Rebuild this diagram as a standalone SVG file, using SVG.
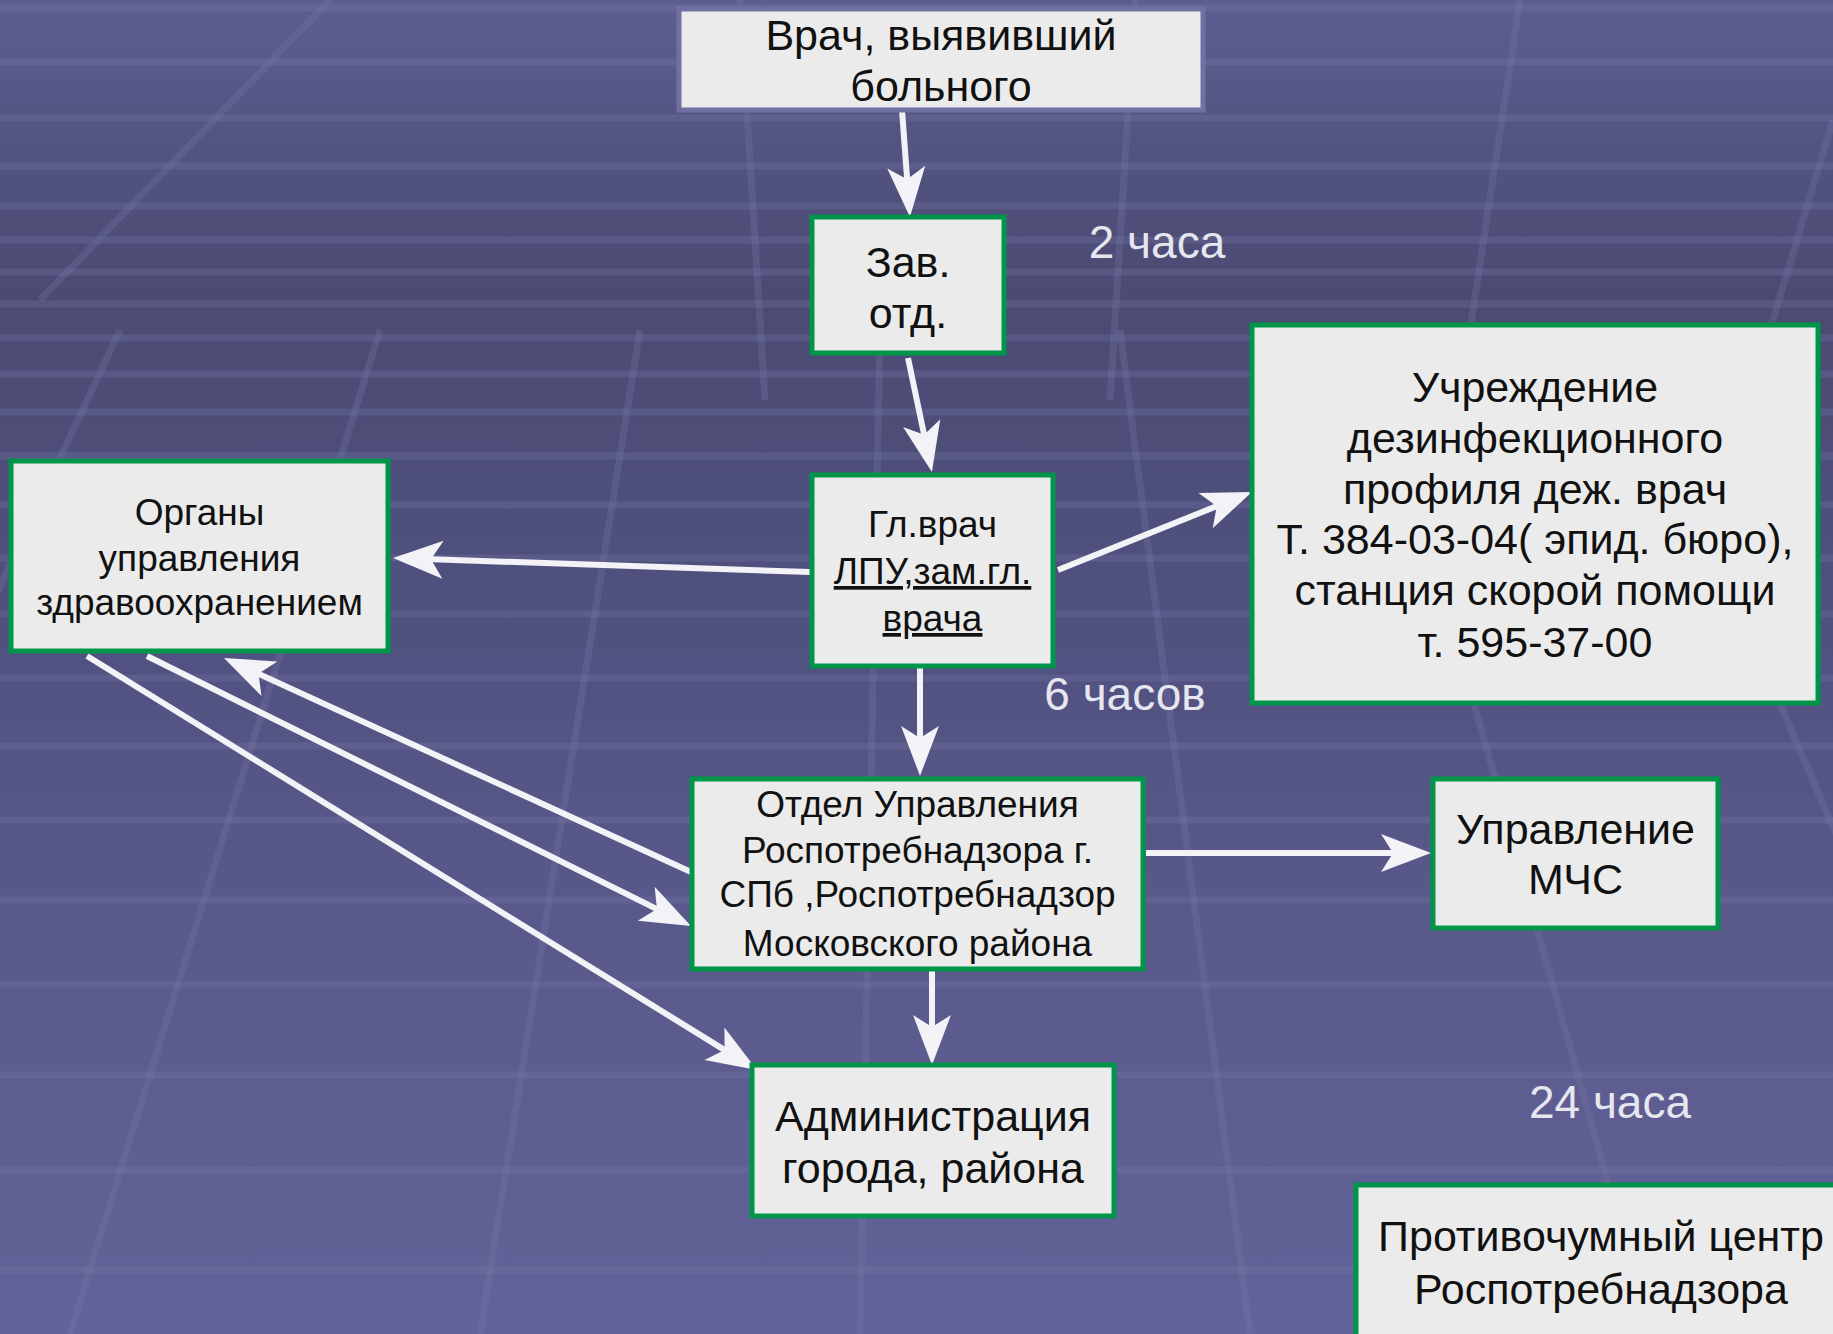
<svg xmlns="http://www.w3.org/2000/svg" width="1833" height="1334" viewBox="0 0 1833 1334">
<defs>
<linearGradient id="bg" x1="0" y1="0" x2="0" y2="1">
<stop offset="0" stop-color="#5d5d91"/>
<stop offset="0.22" stop-color="#4a4a72"/>
<stop offset="0.5" stop-color="#525282"/>
<stop offset="1" stop-color="#636399"/>
</linearGradient>
<marker id="ah" markerUnits="userSpaceOnUse" markerWidth="64" markerHeight="48" viewBox="-32 -24 64 48" refX="0" refY="0" orient="auto">
<path d="M25,0 L-25,-19 L-13,0 L-25,19 Z" fill="#f2f2f7"/>
</marker>
<style>
.bx{fill:#ebebeb;stroke:#00964a;stroke-width:5}
.t{font-family:"Liberation Sans",Arial,sans-serif;fill:#111;text-anchor:middle}
.lb{font-family:"Liberation Sans",Arial,sans-serif;fill:#e6e6ef;text-anchor:middle;font-size:46px}
.c{fill:none;stroke:#f2f2f7;stroke-width:6;marker-end:url(#ah)}
.g{stroke:#7878aa;stroke-opacity:0.3;stroke-width:7;fill:none}
</style>
</defs>
<rect width="1833" height="1334" fill="url(#bg)"/>
<g id="background-grid" class="g">
<path d="M0,8H1833M0,62H1833M0,118H1833M0,166H1833M0,206H1833M0,240H1833M0,272H1833M0,304H1833M0,338H1833M0,374H1833M0,412H1833M0,456H1833M0,505H1833M0,558H1833M0,614H1833M0,678H1833M0,746H1833M0,820H1833M0,900H1833M0,985H1833M0,1075H1833M0,1170H1833M0,1270H1833"/>
<path d="M330,0L40,300M740,0L765,400M1135,0L1110,400M1520,0L1470,330M1833,120L1770,330"/>
<path d="M120,330L-350,1334M380,330L70,1334M640,330L480,1334M880,330L860,1334M1120,330L1250,1334M1370,330L1650,1334M1620,330L2050,1334"/>
</g>
<g id="connectors">
<path class="c" d="M902,110 L908.1,192.1"/>
<path class="c" d="M908,358 L926.8,447.5"/>
<path class="c" d="M810,572 L418,558.8"/>
<path class="c" d="M1058,570 L1228.8,501.3"/>
<path class="c" d="M920,666 L920,751"/>
<path class="c" d="M1146,853 L1406,853"/>
<path class="c" d="M932,969 L932,1040"/>
<path class="c" d="M87,656 L735.7,1056.9"/>
<path class="c" d="M147,656 L668.6,914.9"/>
<path class="c" d="M691,872 L246.7,668.4"/>
</g>
<g id="n-vrach">
<rect x="679" y="9" width="524" height="101" fill="#ebebeb" stroke="#7070a2" stroke-width="5"/>
<text class="t" font-size="43" x="941" y="50">Врач, выявивший</text>
<text class="t" font-size="43" x="941" y="101">больного</text>
</g>
<g id="n-zav">
<rect class="bx" x="812" y="217" width="192" height="136"/>
<text class="t" font-size="43" x="908" y="277">Зав.</text>
<text class="t" font-size="43" x="908" y="328">отд.</text>
</g>
<g id="n-glvrach">
<rect class="bx" x="812" y="475" width="241" height="191"/>
<text class="t" font-size="37" x="932.5" y="537">Гл.врач</text>
<text class="t" font-size="37" x="932.5" y="584" text-decoration="underline">ЛПУ,зам.гл.</text>
<text class="t" font-size="37" x="932.5" y="631" text-decoration="underline">врача</text>
</g>
<g id="n-organy">
<rect class="bx" x="11" y="461" width="377" height="190"/>
<text class="t" font-size="37" x="199.5" y="525">Органы</text>
<text class="t" font-size="37" x="199.5" y="571">управления</text>
<text class="t" font-size="37" x="199.5" y="615">здравоохранением</text>
</g>
<g id="n-dezinf">
<rect class="bx" x="1252" y="325" width="566" height="378"/>
<text class="t" font-size="43" x="1535" y="402">Учреждение</text>
<text class="t" font-size="43" x="1535" y="453">дезинфекционного</text>
<text class="t" font-size="43" x="1535" y="504">профиля деж. врач</text>
<text class="t" font-size="43" x="1535" y="554">Т. 384-03-04( эпид. бюро),</text>
<text class="t" font-size="43" x="1535" y="605">станция скорой помощи</text>
<text class="t" font-size="43" x="1535" y="657">т. 595-37-00</text>
</g>
<g id="n-otdel">
<rect class="bx" x="692" y="779" width="451" height="190"/>
<text class="t" font-size="37" x="917.5" y="817">Отдел Управления</text>
<text class="t" font-size="37" x="917.5" y="863">Роспотребнадзора г.</text>
<text class="t" font-size="37" x="917.5" y="907">СПб ,Роспотребнадзор</text>
<text class="t" font-size="37" x="917.5" y="956">Московского района</text>
</g>
<g id="n-mchs">
<rect class="bx" x="1433" y="779" width="285" height="149"/>
<text class="t" font-size="43" x="1575.5" y="844">Управление</text>
<text class="t" font-size="43" x="1575.5" y="894">МЧС</text>
</g>
<g id="n-admin">
<rect class="bx" x="752" y="1065" width="362" height="151"/>
<text class="t" font-size="43" x="933" y="1131">Администрация</text>
<text class="t" font-size="43" x="933" y="1183">города, района</text>
</g>
<g id="n-protiv">
<rect class="bx" x="1356" y="1185" width="520" height="200"/>
<text class="t" font-size="43" x="1601" y="1251">Противочумный центр</text>
<text class="t" font-size="43" x="1601" y="1304">Роспотребнадзора</text>
</g>
<g id="labels">
<text class="lb" x="1157" y="258">2 часа</text>
<text class="lb" x="1125" y="710">6 часов</text>
<text class="lb" x="1610" y="1118">24 часа</text>
</g>
</svg>
